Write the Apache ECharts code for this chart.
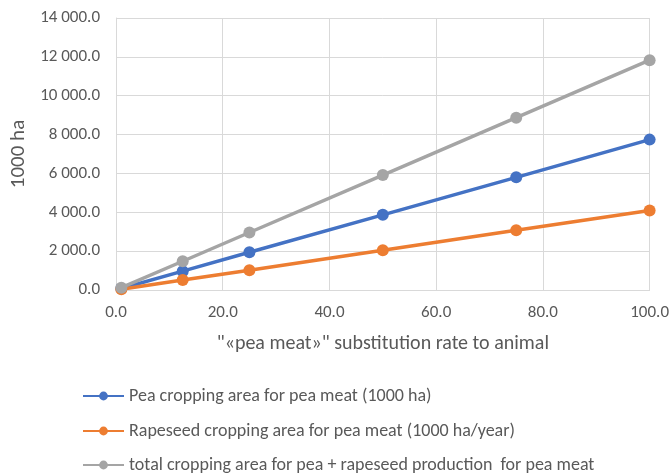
<!DOCTYPE html>
<html>
<head>
<meta charset="utf-8">
<script src="https://cdn.jsdelivr.net/npm/echarts@6/dist/echarts.min.js"></script>
<style>
  html, body { margin: 0; padding: 0; background: #fff; }
  #chart { width: 672px; height: 474px; }
</style>
</head>
<body>
<div id="chart"></div>
<script>
// Substitution rate (%) of animal meat by "pea meat"
const substitutionRate = [1, 12.5, 25, 50, 75, 100];

// Cropping areas (1000 ha)
const peaArea      = [80, 970, 1940, 3870, 5800, 7740];
const rapeseedArea = [40, 510, 1020, 2045, 3070, 4090];
const totalArea    = [120, 1480, 2960, 5915, 8870, 11830];

const seriesNames = [
  'Pea cropping area for pea meat (1000 ha)',
  'Rapeseed cropping area for pea meat (1000 ha/year)',
  'total cropping area for pea + rapeseed production  for pea meat'
];
const seriesColors = ['#4472c4', '#ed7d31', '#a5a5a5'];

const xAxisTitle = '"«pea meat»" substitution rate to animal';
const yAxisTitle = '1000 ha';

const FONT = 'Carlito, Lato, "Liberation Sans", sans-serif';
const TEXT = '#595959';

function fmt(v) {
  const s = v.toFixed(1);
  const parts = s.split('.');
  parts[0] = parts[0].replace(/\B(?=(\d{3})+(?!\d))/g, ' ');
  return parts.join('.');
}

function pairs(values) {
  return substitutionRate.map((x, i) => [x, values[i]]);
}

// one legend block per series, stacked under the plot
const legendTops = [386, 421, 455];
const legends = seriesNames.map((name, i) => ({
  orient: 'vertical',
  left: 82,
  top: legendTops[i],
  padding: 0,
  itemWidth: 41,
  itemHeight: 11,
  textStyle: { fontFamily: FONT, fontSize: 18, lineHeight: 20, color: TEXT },
  data: [name]
}));

const chart = echarts.init(document.getElementById('chart'), null, { renderer: 'canvas' });

chart.setOption({
  animation: false,
  backgroundColor: '#fff',
  textStyle: { fontFamily: FONT },
  grid: { left: 111, right: 22, top: 18, bottom: 184 },
  legend: legends,
  xAxis: {
    type: 'value',
    min: 0, max: 100, interval: 20,
    name: xAxisTitle,
    nameLocation: 'middle',
    nameGap: 44,
    nameTextStyle: { fontFamily: FONT, fontSize: 20, color: TEXT },
    axisLine: { show: true, lineStyle: { color: '#d9d9d9', width: 1 } },
    axisTick: { show: false },
    axisLabel: { formatter: fmt, fontFamily: FONT, fontSize: 17, color: TEXT, margin: 14 },
    splitLine: { show: true, lineStyle: { color: '#d9d9d9', width: 1 } }
  },
  yAxis: {
    type: 'value',
    min: 0, max: 14000, interval: 2000,
    name: yAxisTitle,
    nameLocation: 'middle',
    nameGap: 87,
    nameRotate: 90,
    nameTextStyle: { fontFamily: FONT, fontSize: 21, color: TEXT },
    axisLine: { show: true, lineStyle: { color: '#d9d9d9', width: 1 } },
    axisTick: { show: false },
    axisLabel: { formatter: fmt, fontFamily: FONT, fontSize: 17, color: TEXT, margin: 16 },
    splitLine: { show: true, lineStyle: { color: '#d9d9d9', width: 1 } }
  },
  series: [peaArea, rapeseedArea, totalArea].map((vals, i) => ({
    name: seriesNames[i],
    type: 'line',
    data: pairs(vals),
    symbol: 'circle',
    symbolSize: 12,
    color: seriesColors[i],
    lineStyle: { width: 3.5, color: seriesColors[i] },
    itemStyle: { color: seriesColors[i] },
    z: 2 + i
  }))
});
</script>
</body>
</html>
